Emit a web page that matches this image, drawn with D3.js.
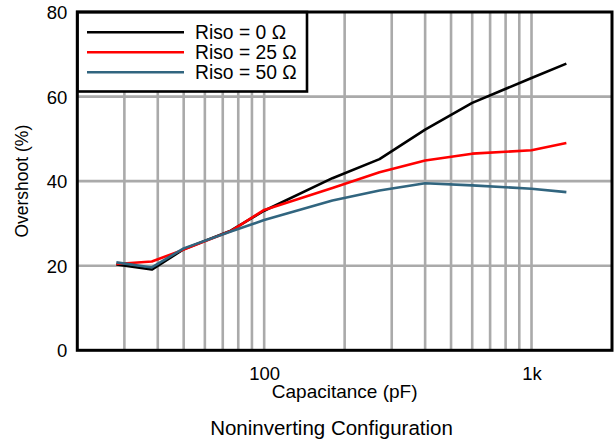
<!DOCTYPE html>
<html>
<head>
<meta charset="utf-8">
<script src="https://cdn.jsdelivr.net/npm/d3@7/dist/d3.min.js"></script>
<style>
  html, body { margin: 0; padding: 0; background: #fff; }
  svg { display: block; }
  text { font-family: "Liberation Sans", Arial, Helvetica, sans-serif; fill: #000; }
</style>
</head>
<body>
<svg id="chart" width="614" height="439"></svg>
<script>
// Load capacitance (pF) and the overshoot (%) measured for each isolation resistor
const capacitance = [28, 38, 50, 75, 100, 180, 270, 400, 600, 1000, 1350];
const riso0  = [20.3, 19.1, 23.9, 28.3, 33.0, 40.7, 45.2, 52.2, 58.5, 64.4, 67.8];
const riso25 = [20.4, 21.0, 23.8, 28.2, 33.2, 38.4, 42.1, 44.9, 46.5, 47.3, 49.0];
const riso50 = [20.8, 19.6, 24.1, 28.1, 30.8, 35.4, 37.8, 39.5, 39.0, 38.2, 37.4];

const seriesNames = ["Riso = 0 \u03A9", "Riso = 25 \u03A9", "Riso = 50 \u03A9"];
const seriesColors = ["#000000", "#ff0000", "#31657f"];

const yTicks = [0, 20, 40, 60, 80];
const xTickValues = [100, 1000];
const xTickLabels = ["100", "1k"];
const xGridValues = [30, 40, 50, 60, 70, 80, 90, 100, 200, 300, 400, 500, 600, 700, 800, 900, 1000];

const svg = d3.select("#chart");
const plot = { left: 77.3, right: 612, top: 12, bottom: 350.3 };

const x = d3.scaleLog().domain([20, 2000]).range([plot.left, plot.right]);
const y = d3.scaleLinear().domain([0, 80]).range([plot.bottom, plot.top]);

// grid
const grid = svg.append("g").attr("stroke", "#aaaaaa").attr("stroke-width", 2.6);
grid.selectAll("line.v").data(xGridValues).join("line")
  .attr("class", "v")
  .attr("x1", d => x(d)).attr("x2", d => x(d))
  .attr("y1", plot.top).attr("y2", plot.bottom);
grid.selectAll("line.h").data(yTicks.slice(1, -1)).join("line")
  .attr("class", "h")
  .attr("x1", plot.left).attr("x2", plot.right)
  .attr("y1", d => y(d)).attr("y2", d => y(d));

// curves
const data = [riso0, riso25, riso50];
const line = d3.line()
  .x((d, i) => x(capacitance[i]))
  .y(d => y(d));
svg.append("g").selectAll("path").data(data).join("path")
  .attr("d", d => line(d))
  .attr("fill", "none")
  .attr("stroke", (d, i) => seriesColors[i])
  .attr("stroke-width", 2.6)
  .attr("stroke-linejoin", "round");

// legend
const legend = svg.append("g");
legend.append("rect")
  .attr("x", plot.left).attr("y", plot.top)
  .attr("width", 307 - plot.left).attr("height", 91.5 - plot.top)
  .attr("fill", "#fff").attr("stroke", "#000").attr("stroke-width", 2.6);
seriesNames.forEach((name, i) => {
  const ly = 32.3 + i * 20;
  legend.append("line")
    .attr("x1", 87).attr("x2", 184)
    .attr("y1", ly).attr("y2", ly)
    .attr("stroke", seriesColors[i]).attr("stroke-width", 2.6);
  legend.append("text")
    .attr("x", 195).attr("y", ly + 6.8)
    .attr("font-size", 19.3)
    .text(name);
});

// frame
svg.append("rect")
  .attr("x", plot.left).attr("y", plot.top)
  .attr("width", plot.right - plot.left).attr("height", plot.bottom - plot.top)
  .attr("fill", "none").attr("stroke", "#000").attr("stroke-width", 3);

// y axis labels
const yAxis = d3.axisLeft(y).tickValues(yTicks).tickSize(0).tickPadding(10);
const gy = svg.append("g").attr("transform", `translate(${plot.left},0)`).call(yAxis);
gy.select(".domain").remove();
gy.selectAll("text").attr("font-size", 18.5).attr("font-family", null).attr("fill", "#000")
  .attr("dy", "0.36em");

// x axis labels
const xAxis = d3.axisBottom(x).tickValues(xTickValues)
  .tickFormat((d, i) => xTickLabels[i]).tickSize(0).tickPadding(0);
const gx = svg.append("g").attr("transform", `translate(0,${plot.bottom})`).call(xAxis);
gx.select(".domain").remove();
gx.selectAll("text").attr("font-size", 18.5).attr("font-family", null).attr("fill", "#000")
  .attr("dy", null).attr("y", 29.5);

// titles
svg.append("text")
  .attr("x", (plot.left + plot.right) / 2).attr("y", 397.5)
  .attr("text-anchor", "middle").attr("font-size", 19)
  .text("Capacitance (pF)");
svg.append("text")
  .attr("transform", `translate(28,${(plot.top + plot.bottom) / 2}) rotate(-90)`)
  .attr("text-anchor", "middle").attr("font-size", 17.5)
  .text("Overshoot (%)");
svg.append("text")
  .attr("x", 331.5).attr("y", 435)
  .attr("text-anchor", "middle").attr("font-size", 20.5)
  .text("Noninverting Configuration");
</script>
</body>
</html>
